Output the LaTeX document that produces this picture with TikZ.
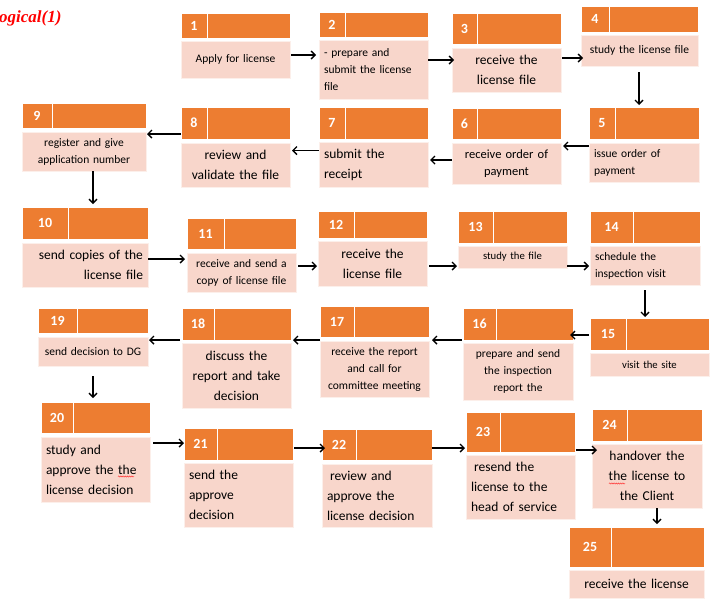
\documentclass[tikz,border=0pt]{standalone}
\usepackage{fontspec}
\setmainfont{Carlito}
\newfontfamily\titlefont{Liberation Serif}
\usetikzlibrary{arrows.meta,decorations.pathmorphing}
\definecolor{hdrorange}{HTML}{ED7D31}
\definecolor{bodypink}{HTML}{F8D6CB}
\tikzset{
  hcell/.style={rectangle,fill=hdrorange,draw=white,line width=0.8pt,inner sep=0pt,outer sep=0pt,
    text=white,font=\bfseries\fontsize{14}{16}\selectfont},
  bcell/.style={rectangle,fill=bodypink,draw=white!60!bodypink,line width=0.8pt,inner xsep=5pt,inner ysep=1pt,outer sep=0pt,
    text=black},
  sm/.style={font=\fontsize{11.5}{17}\selectfont},
  xs/.style={font=\fontsize{10.7}{16}\selectfont},
  md/.style={font=\fontsize{12.5}{17}\selectfont},
  lg/.style={font=\fontsize{13.5}{20}\selectfont},
  arr/.style={draw=black,line width=1.4pt,-{Straight Barb[length=4pt,width=8pt,line width=1.4pt]}},
  wavy/.style={draw=red!80,line width=0.5pt,decorate,decoration={snake,amplitude=0.6pt,segment length=2.2pt}}
}
% header: N x1 xd x2 y1 y2
\newcommand\phead[6]{%
  \pgfmathsetmacro\pwa{#3-#2}\pgfmathsetmacro\pwb{#4-#3}\pgfmathsetmacro\phh{#6-#5}%
  \node[hcell,minimum width=\pwa pt,minimum height=\phh pt,anchor=north west] (n#1) at (#2,#5) {#1};
  \node[hcell,minimum width=\pwb pt,minimum height=\phh pt,anchor=north west] (r#1) at (#3,#5) {};}
% body: N x1 x2 y1 y2 style text
\newcommand\pbody[7]{%
  \pgfmathsetmacro\pwa{#3-#2}\pgfmathsetmacro\phh{#5-#4}\pgfmathsetmacro\ptw{#3-#2-10}%
  \node[bcell,minimum width=\pwa pt,minimum height=\phh pt,text width=\ptw pt,anchor=north west,#6] (b#1) at (#2,#4) {#7};}
% arrows: from, to, offset (pixels), extra options
\newcommand\rarr[4]{\draw[arr,#4] (#1.east) ++(0,#3) coordinate (tmp) -- (tmp -| #2.west);}
\newcommand\larr[4]{\draw[arr,#4] (#1.west) ++(0,#3) coordinate (tmp) -- (tmp -| #2.east);}
\newcommand\darr[4]{\draw[arr,#4] (#1.south) ++(#3,0) coordinate (tmp) -- (tmp |- #2.north);}
\begin{document}
\begin{tikzpicture}[x=1pt,y=-1pt]
\useasboundingbox (0,0) rectangle (719,598);
\node[anchor=base west,inner sep=0pt,text=red,font=\titlefont\bfseries\itshape\fontsize{17}{20}\selectfont] (title) at (-1,22) {ogical(1)};

\phead{1}{181}{207}{290}{13}{38}
\pbody{1}{181}{290}{41}{78}{sm,align=center}{Apply for license\\[4pt]}
\phead{2}{319}{345}{428}{12}{37}
\pbody{2}{319}{428}{40}{99}{sm,align=left}{- prepare and\\ submit the license\\ file}
\phead{3}{452}{477}{561}{13}{44}
\pbody{3}{452}{561}{48}{92}{lg,align=center}{receive the\\ license file}
\phead{4}{581}{609}{698}{6}{32}
\pbody{4}{581}{698}{35}{66}{sm,align=center}{study the license file\\[2pt]}
\phead{5}{589}{615}{699}{107}{139}
\pbody{5}{589}{699}{143}{182}{sm,align=left}{issue order of\\ payment}
\phead{6}{452}{477}{561}{108}{139}
\pbody{6}{452}{561}{143}{184}{md,align=center}{receive order of\\ payment}
\phead{7}{319}{345}{428}{107}{139}
\pbody{7}{319}{428}{142}{187}{lg,align=left}{submit the\\ receipt}
\phead{8}{181}{207}{290}{107}{139}
\pbody{8}{181}{290}{143}{187}{lg,align=center}{review and\\ validate the file}
\phead{9}{22}{52}{146}{103}{128}
\pbody{9}{22}{146}{132}{171}{sm,align=center}{register and give\\ application number}
\phead{10}{22}{68}{148}{207}{239}
\pbody{10}{22}{148}{243}{287}{lg,align=right}{send copies of the\\ license file}
\phead{11}{187}{224}{296}{218}{249}
\pbody{11}{187}{296}{253}{292}{sm,align=center}{receive and send a\\ copy of license file}
\phead{12}{318}{354}{427}{211}{238}
\pbody{12}{318}{427}{241}{286}{lg,align=center}{receive the\\ license file}
\phead{13}{458}{493}{567}{211}{243}
\pbody{13}{458}{567}{246}{268}{xs,align=center}{study the file}
\phead{14}{590}{633}{700}{211}{243}
\pbody{14}{590}{700}{246}{285}{sm,align=left}{schedule the\\ inspection visit}
\phead{15}{590}{626}{709}{318}{350}
\pbody{15}{590}{709}{353}{376}{xs,align=center}{visit the site}
\phead{16}{463}{496}{573}{308}{340}
\pbody{16}{463}{573}{343}{400}{sm,align=center}{prepare and send\\ the inspection\\ report the}
\phead{17}{320}{354}{429}{306}{337}
\pbody{17}{320}{429}{341}{397}{sm,align=center}{receive the report\\ and call for\\ committee meeting}
\phead{18}{182}{214}{291}{308}{340}
\pbody{18}{182}{291}{343}{408}{lg,align=center}{discuss the\\ report and take\\ decision}
\phead{19}{38}{77}{148}{308}{333}
\pbody{19}{38}{148}{337}{366}{sm,align=center}{send decision to DG}
\phead{20}{41}{73}{150}{402}{433}
\pbody{20}{41}{150}{437}{502}{lg,align=left}{study and\\ approve the the\\ license decision}
\phead{21}{184}{217}{293}{428}{460}
\pbody{21}{184}{293}{463}{527}{lg,align=left}{send the\\ approve\\ decision}
\phead{22}{322}{356}{432}{429}{460}
\pbody{22}{322}{432}{464}{527}{lg,align=left}{\hspace*{3pt}review and\\ approve the\\ license decision}
\phead{23}{466}{500}{575}{412}{452}
\pbody{23}{466}{575}{455}{519}{lg,align=left}{\hspace*{3pt}resend the\\ license to the\\ head of service}
\phead{24}{592}{627}{702}{409}{441}
\pbody{24}{592}{702}{444}{508}{lg,align=center}{handover the\\ the license to\\ the Client}
\phead{25}{569}{611}{704}{527}{567}
\pbody{25}{569}{704}{570}{598}{lg,align=center}{receive the license}

% spell-check marks
\draw[wavy] (118,476.5) -- (134,476.5);
\draw[wavy] (609,483.5) -- (625,483.5);

% connectors
\rarr{b1}{b2}{-4.5}{shorten <=1pt,shorten >=3pt}
\rarr{b2}{b3}{-9.5}{shorten >=-2pt}
\rarr{b3}{b4}{-12}{shorten <=1pt,shorten >=-2pt}
\darr{b4}{r5}{-0.5}{shorten <=6pt,shorten >=2pt}
\larr{b5}{b6}{-16.5}{shorten >=2pt}
\larr{b6}{b7}{-3.5}{shorten >=2pt}
\larr{b7}{b8}{-14}{shorten >=2pt}
\larr{n8}{b9}{11}{shorten >=1pt}
\darr{b9}{r10}{9}{shorten >=3pt}
\rarr{b10}{b11}{-6}{shorten >=2pt}
\rarr{b11}{b12}{-6.5}{shorten <=2pt,shorten >=1pt}
\rarr{b12}{b13}{2.5}{shorten <=2pt,shorten >=1pt}
\rarr{b13}{b14}{9}{shorten >=1pt}
\darr{b14}{r15}{0}{shorten <=5pt,shorten >=1pt}
\larr{n15}{r16}{1}{shorten <=1pt,shorten >=-3pt}
\larr{n16}{b17}{16}{shorten <=1pt,shorten >=3pt}
\larr{n17}{r18}{18.5}{shorten >=2pt}
\larr{n18}{b19}{16}{shorten <=2pt,shorten >=1pt}
\darr{b19}{r20}{0}{shorten <=10pt,shorten >=4pt}
\rarr{b20}{n21}{-26.5}{shorten <=3pt}
\rarr{r21}{n22}{4}{shorten <=1pt,shorten >=-3pt}
\rarr{r22}{n23}{3.5}{shorten >=1pt}
\rarr{r23}{b24}{18}{shorten <=1pt,shorten >=-5pt}
\darr{b24}{r25}{10}{shorten >=3pt}
\end{tikzpicture}
\end{document}
